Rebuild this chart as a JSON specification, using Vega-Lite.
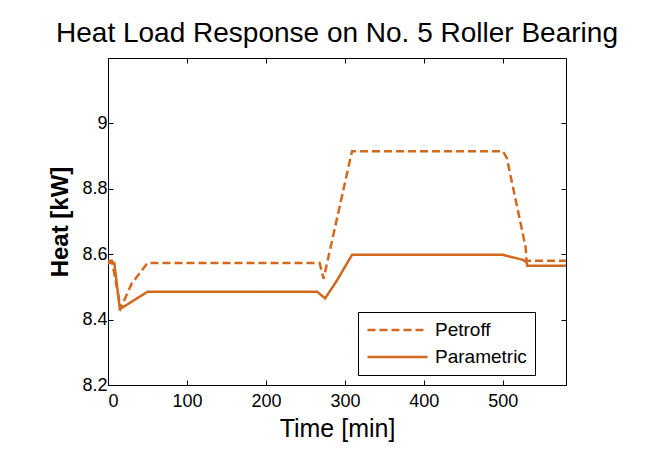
{
  "$schema": "https://vega.github.io/schema/vega-lite/v6.json",
  "autosize": "none",
  "width": 458,
  "height": 327,
  "padding": {"left": 108, "top": 58, "right": 79, "bottom": 65},
  "background": "white",
  "title": {"text": "Heat Load Response on No. 5 Roller Bearing", "font": "Liberation Sans", "fontSize": 28, "fontWeight": "normal", "color": "black", "offset": 10},
  "config": {
    "view": {"stroke": "black", "strokeWidth": 1},
    "axis": {"labelFont": "Liberation Sans", "titleFont": "Liberation Sans", "labelColor": "black", "titleColor": "black", "domainColor": "black", "tickColor": "black", "grid": false, "labelFontSize": 18, "titleFontSize": 25, "titleFontWeight": "normal", "tickSize": -5}
  },
  "data": {"values": [
    {"t": 0, "heat": 8.58, "model": "Petroff"},
    {"t": 5, "heat": 8.58, "model": "Petroff"},
    {"t": 16, "heat": 8.435, "model": "Petroff"},
    {"t": 30, "heat": 8.51, "model": "Petroff"},
    {"t": 50, "heat": 8.573, "model": "Petroff"},
    {"t": 268, "heat": 8.573, "model": "Petroff"},
    {"t": 273, "heat": 8.525, "model": "Petroff"},
    {"t": 309, "heat": 8.915, "model": "Petroff"},
    {"t": 500, "heat": 8.915, "model": "Petroff"},
    {"t": 505, "heat": 8.895, "model": "Petroff"},
    {"t": 529, "heat": 8.62, "model": "Petroff"},
    {"t": 530, "heat": 8.58, "model": "Petroff"},
    {"t": 580, "heat": 8.58, "model": "Petroff"},
    {"t": 0, "heat": 8.573, "model": "Parametric"},
    {"t": 8, "heat": 8.573, "model": "Parametric"},
    {"t": 15, "heat": 8.432, "model": "Parametric"},
    {"t": 50, "heat": 8.485, "model": "Parametric"},
    {"t": 265, "heat": 8.485, "model": "Parametric"},
    {"t": 275, "heat": 8.465, "model": "Parametric"},
    {"t": 290, "heat": 8.52, "model": "Parametric"},
    {"t": 309, "heat": 8.598, "model": "Parametric"},
    {"t": 500, "heat": 8.598, "model": "Parametric"},
    {"t": 525, "heat": 8.583, "model": "Parametric"},
    {"t": 530, "heat": 8.576, "model": "Parametric"},
    {"t": 531, "heat": 8.565, "model": "Parametric"},
    {"t": 580, "heat": 8.565, "model": "Parametric"}
  ]},
  "layer": [
    {
      "mark": {"type": "line", "color": "#d2691e", "strokeWidth": 2.5},
      "encoding": {
        "x": {"field": "t", "type": "quantitative", "scale": {"domain": [0, 580], "nice": false, "zero": false}, "axis": {"title": "Time [min]", "values": [0, 100, 200, 300, 400, 500], "labelPadding": 12, "titlePadding": 6}},
        "y": {"field": "heat", "type": "quantitative", "scale": {"domain": [8.2, 9.2], "nice": false, "zero": false}, "axis": {"title": "Heat [kW]", "titleFontWeight": "bold", "titleFontSize": 24, "values": [8.2, 8.4, 8.6, 8.8, 9.0], "format": ".1~f", "labelPadding": 6, "titlePadding": 9}},
        "strokeDash": {"field": "model", "type": "nominal", "scale": {"domain": ["Petroff", "Parametric"], "range": [[8, 4], [1, 0]]},
          "legend": {"title": null, "orient": "none", "legendX": 250, "legendY": 254, "symbolType": "stroke", "symbolStrokeColor": "#d2691e", "symbolStrokeWidth": 2.5, "symbolSize": 3600, "clipHeight": 20, "labelFont": "Liberation Sans", "labelFontSize": 19, "labelColor": "black", "strokeColor": "black", "fillColor": "white", "padding": 8, "rowPadding": 7, "labelOffset": 6}}
      }
    },
    {
      "mark": {"type": "point", "opacity": 0},
      "encoding": {
        "x": {"field": "t", "type": "quantitative", "scale": {"domain": [0, 580], "nice": false, "zero": false}, "axis": {"orient": "top", "title": null, "labels": false, "domain": false, "values": [0, 100, 200, 300, 400, 500]}},
        "y": {"field": "heat", "type": "quantitative", "scale": {"domain": [8.2, 9.2], "nice": false, "zero": false}, "axis": {"orient": "right", "title": null, "labels": false, "domain": false, "values": [8.2, 8.4, 8.6, 8.8, 9.0]}}
      }
    }
  ],
  "resolve": {"axis": {"x": "independent", "y": "independent"}}
}
